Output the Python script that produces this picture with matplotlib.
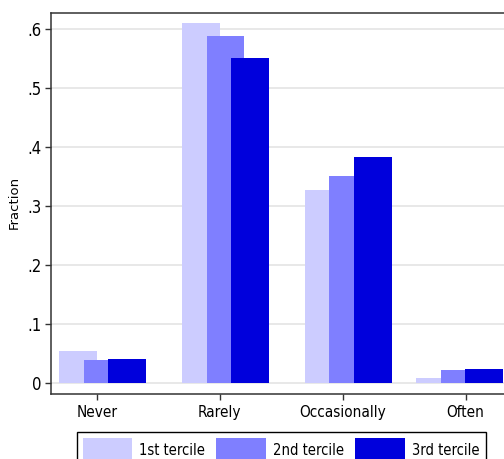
import numpy as np
import matplotlib
matplotlib.use("Agg")
import matplotlib.pyplot as plt

# ─── data ───
categories = ["Never", "Rarely", "Occasionally", "Often"]
series_names = ["1st tercile", "2nd tercile", "3rd tercile"]
tercile1 = [0.054, 0.610, 0.327, 0.009]
tercile2 = [0.039, 0.588, 0.352, 0.023]
tercile3 = [0.041, 0.552, 0.384, 0.024]
y_ticks = [0, 0.1, 0.2, 0.3, 0.4, 0.5, 0.6]
y_labels = ["0", ".1", ".2", ".3", ".4", ".5", ".6"]

# ─── layout / style ───
colors = ["#ccccff", "#7f7fff", "#0000dc"]
bar_w = 0.307
bar_left = [-0.307, -0.107, 0.093]     # left edge of each tercile bar, relative to the group
group_shift = [0, 0, 0, -0.095]        # last group sits a little left of its tick
label_font = dict(family="DejaVu Sans", stretch="condensed")

fig = plt.figure(figsize=(5.04, 4.59), dpi=100)
ax = fig.add_axes([51 / 504, 65 / 459, 460 / 504, 381 / 459])

x = np.arange(1, len(categories) + 1)
for vals, left, col in zip([tercile1, tercile2, tercile3], bar_left, colors):
    xs = x + np.array(group_shift) + left
    ax.bar(xs, vals, width=bar_w, align="edge", color=col, linewidth=0, zorder=2)

ax.set_xlim(0.628, 4.37)
ax.set_ylim(-0.0181, 0.6276)

ax.set_yticks(y_ticks)
ax.set_yticklabels(y_labels, fontsize=12, **label_font)
ax.set_xticks(x)
ax.set_xticklabels(categories, fontsize=11, **label_font)
ax.yaxis.grid(True, color="#e2e2e2", linewidth=1.1, zorder=0)
ax.set_axisbelow(True)

for side in ["left", "bottom", "top"]:
    ax.spines[side].set_color("#333333")
    ax.spines[side].set_linewidth(1.1)
ax.spines["right"].set_visible(False)
ax.tick_params(axis="both", length=4, width=1, color="#333333", pad=2.5)
ax.tick_params(axis="x", pad=4)

ax.set_ylabel("Fraction", fontsize=9.5, family="DejaVu Sans")
ax.yaxis.set_label_coords(-0.066, 0.504)

handles = [plt.Rectangle((0, 0), 1, 1, color=c, linewidth=0) for c in colors]
leg = fig.legend(handles, series_names, ncol=3, loc="upper left",
                 bbox_to_anchor=(76.7 / 504, 1 - 432.3 / 459),
                 prop=dict(size=10.5, **label_font),
                 handlelength=3.4, handleheight=2.3, handletextpad=0.5,
                 columnspacing=0.75, borderpad=0.4, borderaxespad=0,
                 fancybox=False, framealpha=1, edgecolor="black")
leg.get_frame().set_linewidth(1)

fig.savefig("out.png", dpi=100)
